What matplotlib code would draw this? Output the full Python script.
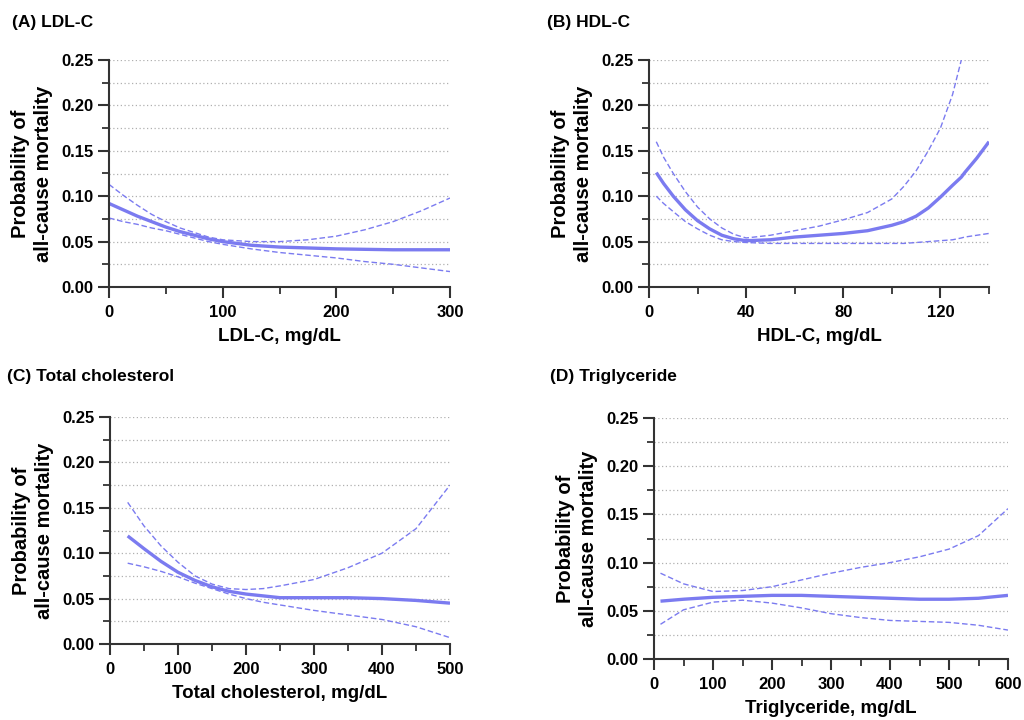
import numpy as np
import matplotlib.pyplot as plt
from matplotlib.ticker import MultipleLocator, FormatStrFormatter

plt.rcParams['font.family'] = ['Liberation Sans', 'DejaVu Sans']
plt.rcParams['font.weight'] = 'bold'

LINE_COLOR = '#7b7bf0'

# (A) LDL-C
ldl_x = [0, 12.5, 25, 37.5, 50, 62.5, 75, 87.5, 100, 125, 150, 175, 200, 225, 250, 275, 300]
ldl_fit = [0.092, 0.085, 0.078, 0.072, 0.066, 0.061, 0.057, 0.053, 0.050, 0.046, 0.044, 0.043, 0.042, 0.0415, 0.041, 0.041, 0.041]
ldl_up = [0.113, 0.101, 0.090, 0.080, 0.072, 0.065, 0.060, 0.055, 0.052, 0.050, 0.050, 0.052, 0.056, 0.063, 0.072, 0.084, 0.098]
ldl_lo = [0.076, 0.072, 0.069, 0.065, 0.062, 0.058, 0.054, 0.050, 0.047, 0.042, 0.038, 0.035, 0.032, 0.028, 0.025, 0.021, 0.017]

# (B) HDL-C
hdl_x = [3, 6, 10, 15, 20, 25, 30, 35, 40, 50, 60, 70, 80, 90, 100, 105, 110, 115, 120, 125, 128.6, 130, 135, 140]
hdl_fit = [0.126, 0.114, 0.100, 0.085, 0.073, 0.064, 0.057, 0.053, 0.051, 0.052, 0.055, 0.057, 0.059, 0.062, 0.068, 0.072, 0.078, 0.087, 0.099, 0.112, 0.121, 0.126, 0.142, 0.160]
hdl_up = [0.160, 0.143, 0.125, 0.105, 0.088, 0.075, 0.065, 0.058, 0.054, 0.057, 0.062, 0.067, 0.074, 0.082, 0.097, 0.111, 0.128, 0.150, 0.175, 0.212, 0.250, np.nan, np.nan, np.nan]
hdl_lo = [0.100, 0.092, 0.083, 0.072, 0.064, 0.057, 0.052, 0.050, 0.049, 0.048, 0.048, 0.048, 0.048, 0.048, 0.048, 0.048, 0.049, 0.050, 0.051, 0.052, 0.054, 0.055, 0.057, 0.059]

# (C) Total cholesterol
tc_x = [26, 50, 75, 100, 125, 150, 175, 200, 225, 250, 300, 350, 400, 450, 500]
tc_fit = [0.119, 0.105, 0.091, 0.079, 0.070, 0.063, 0.058, 0.055, 0.053, 0.051, 0.051, 0.051, 0.050, 0.048, 0.045]
tc_up = [0.156, 0.130, 0.108, 0.090, 0.075, 0.066, 0.061, 0.060, 0.061, 0.064, 0.071, 0.084, 0.100, 0.127, 0.175]
tc_lo = [0.089, 0.085, 0.080, 0.074, 0.067, 0.061, 0.055, 0.050, 0.046, 0.043, 0.037, 0.032, 0.027, 0.019, 0.007]

# (D) Triglyceride
tg_x = [11, 50, 100, 150, 200, 250, 300, 350, 400, 450, 500, 550, 600]
tg_fit = [0.060, 0.062, 0.064, 0.065, 0.066, 0.066, 0.065, 0.064, 0.063, 0.062, 0.062, 0.063, 0.066]
tg_up = [0.089, 0.078, 0.070, 0.071, 0.075, 0.082, 0.089, 0.095, 0.100, 0.106, 0.114, 0.128, 0.156]
tg_lo = [0.036, 0.051, 0.059, 0.061, 0.058, 0.053, 0.047, 0.043, 0.040, 0.039, 0.038, 0.035, 0.030]

panels = [
    ('(A) LDL-C', 'LDL-C, mg/dL', ldl_x, ldl_fit, ldl_up, ldl_lo, 300, 100,
     [109, 60, 341, 227], (12, 22)),
    ('(B) HDL-C', 'HDL-C, mg/dL', hdl_x, hdl_fit, hdl_up, hdl_lo, 140, 40,
     [649, 60, 340, 227], (547, 22)),
    ('(C) Total cholesterol', 'Total cholesterol, mg/dL', tc_x, tc_fit, tc_up, tc_lo, 500, 100,
     [110, 417, 340, 227], (7, 376)),
    ('(D) Triglyceride', 'Triglyceride, mg/dL', tg_x, tg_fit, tg_up, tg_lo, 600, 100,
     [654, 418, 354, 241], (550, 376)),
]

W, H = 1024, 720
fig = plt.figure(figsize=(W / 100, H / 100), dpi=100)

for title, xlabel, x, fit, up, lo, xmax, xstep, box, tpos in panels:
    left, top, w, h = box
    ax = fig.add_axes([left / W, 1 - (top + h) / H, w / W, h / H])

    # dotted horizontal grid every 0.025
    for g in np.arange(0.025, 0.2501, 0.025):
        ax.axhline(g, color='#b0b0b0', lw=0.9, ls=(0, (1, 2)), zorder=0)

    ax.plot(x, up, color=LINE_COLOR, lw=1.0, ls=(0, (4, 2)))
    ax.plot(x, lo, color=LINE_COLOR, lw=1.0, ls=(0, (4, 2)))
    ax.plot(x, fit, color=LINE_COLOR, lw=2.4, solid_capstyle='butt')

    ax.set_xlim(0, xmax)
    ax.set_ylim(0, 0.25)
    ax.xaxis.set_major_locator(MultipleLocator(xstep))
    ax.xaxis.set_minor_locator(MultipleLocator(xstep / 2))
    ax.yaxis.set_major_locator(MultipleLocator(0.05))
    ax.yaxis.set_minor_locator(MultipleLocator(0.025))
    ax.yaxis.set_major_formatter(FormatStrFormatter('%.2f'))

    for s in ['top', 'right']:
        ax.spines[s].set_visible(False)
    for s in ['left', 'bottom']:
        ax.spines[s].set_linewidth(1.5)
        ax.spines[s].set_color('#333333')
    ax.tick_params(which='major', length=8, width=1.5, color='#333333', labelsize=12, pad=3)
    ax.tick_params(axis='x', which='major', pad=5)
    ax.tick_params(which='minor', length=5, width=1.3, color='#333333')
    for lab in ax.get_xticklabels() + ax.get_yticklabels():
        lab.set_fontweight('bold')

    ax.set_xlabel(xlabel, fontsize=13.5, fontweight='bold', labelpad=6)
    ax.set_ylabel('Probability of\nall-cause mortality', fontsize=14.5,
                  fontweight='bold', labelpad=6, linespacing=1.3)

    fig.text(tpos[0] / W, 1 - tpos[1] / H, title, fontsize=12.5, fontweight='bold',
             ha='left', va='center')

fig.savefig('out.png', dpi=100)
